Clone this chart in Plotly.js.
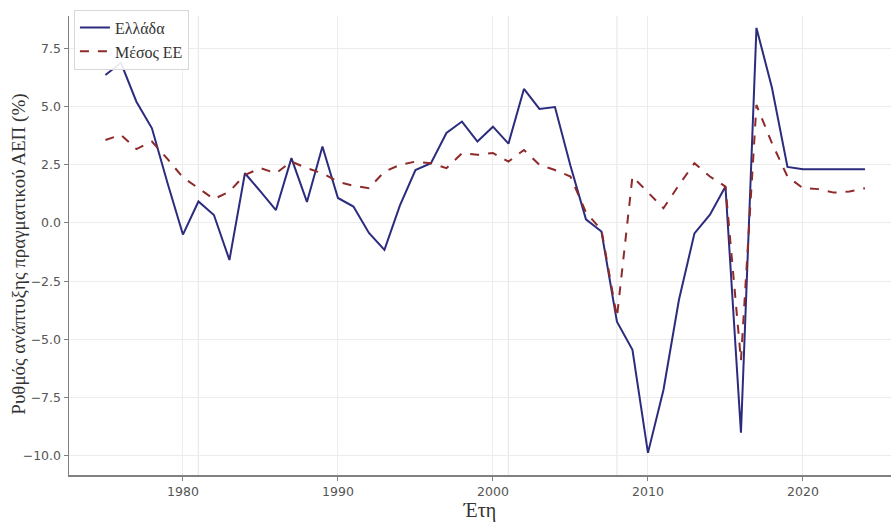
<!DOCTYPE html>
<html>
<head>
<meta charset="utf-8">
<script src="https://cdn.plot.ly/plotly-3.0.1.min.js"></script>
<style>html,body{margin:0;padding:0;background:#fff;}#chart{width:891px;height:527px;}</style>
</head>
<body>
<div id="chart"></div>
<script>
const years = [1975,1976,1977,1978,1979,1980,1981,1982,1983,1984,1985,1986,1987,1988,1989,1990,1991,1992,1993,1994,1995,1996,1997,1998,1999,2000,2001,2002,2003,2004,2005,2006,2007,2008,2009,2010,2011,2012,2013,2014,2015,2016,2017,2018,2019,2020,2021,2022,2023,2024];
const greece = [6.35,6.87,5.2,4.06,1.72,-0.5,0.92,0.34,-1.59,2.13,1.35,0.55,2.78,0.9,3.28,1.07,0.7,-0.43,-1.16,0.75,2.27,2.56,3.86,4.35,3.49,4.13,3.4,5.75,4.89,4.97,2.45,0.15,-0.37,-4.24,-5.45,-9.87,-7.17,-3.3,-0.45,0.35,1.56,-9.0,8.37,5.8,2.4,2.3,2.3,2.3,2.3,2.3];
const euAvg = [3.56,3.78,3.17,3.49,2.75,1.95,1.49,1.02,1.35,2.06,2.35,2.13,2.63,2.35,2.13,1.77,1.59,1.49,2.2,2.49,2.63,2.56,2.35,2.99,2.92,3.0,2.63,3.13,2.49,2.27,1.99,0.45,-0.3,-4.05,1.99,1.3,0.63,1.63,2.56,1.99,1.56,-5.9,5.06,3.42,1.99,1.49,1.45,1.3,1.35,1.49];
const seriesNames = ['Ελλάδα','Μέσος ΕΕ'];
const eventYears = [1981,2001,2008];
const xTitle = 'Έτη';
const yTitle = 'Ρυθμός ανάπτυξης πραγματικού ΑΕΠ (%)';

const serif = 'Liberation Serif, DejaVu Serif, serif';
const sans = 'DejaVu Sans, sans-serif';

const traces = [
  {x: years, y: greece, name: seriesNames[0], type: 'scatter', mode: 'lines',
   line: {color: '#2c2c7e', width: 2}},
  {x: years, y: euAvg, name: seriesNames[1], type: 'scatter', mode: 'lines',
   line: {color: '#8e2a2a', width: 2, dash: 'dash'}}
];

const shapes = eventYears.map(yr => ({
  type: 'line', xref: 'x', yref: 'paper', x0: yr, x1: yr, y0: 0, y1: 1,
  layer: 'below', line: {color: '#e8e8e8', width: 1.2}
}));

const layout = {
  width: 891, height: 527,
  margin: {l: 69, r: 0, t: 16, b: 52},
  paper_bgcolor: '#fff', plot_bgcolor: '#fff',
  showlegend: true,
  legend: {x: 0.006, y: 1.014, xanchor: 'left', yanchor: 'top',
    bgcolor: 'rgba(255,255,255,0.9)', bordercolor: '#d8d8d8', borderwidth: 1,
    font: {family: serif, size: 16, color: '#333'}, tracegroupgap: 0, itemwidth: 30},
  xaxis: {
    range: [1972.65, 2025.68], tickmode: 'linear', tick0: 1980, dtick: 10,
    showgrid: true, gridcolor: '#ececec', gridwidth: 1,
    zeroline: false, showline: true, linecolor: '#808080', linewidth: 1.5,
    ticks: 'outside', ticklen: 4, tickcolor: '#808080',
    tickfont: {family: sans, size: 12.5, color: '#555'},
    title: {text: xTitle, font: {family: serif, size: 20, color: '#333'}, standoff: 4},
    automargin: false
  },
  yaxis: {
    range: [-10.82, 8.88], tickmode: 'linear', tick0: 0, dtick: 2.5, tickformat: '.1f',
    showgrid: true, gridcolor: '#ececec', gridwidth: 1,
    zeroline: false, showline: true, linecolor: '#808080', linewidth: 1.5,
    ticks: 'outside', ticklen: 4, tickcolor: '#808080',
    tickfont: {family: sans, size: 12.5, color: '#555'},
    automargin: false
  },
  annotations: [{
    text: yTitle, xref: 'paper', yref: 'paper', x: 0, y: 0.48,
    xanchor: 'center', yanchor: 'middle', xshift: -50, textangle: -90,
    showarrow: false, font: {family: serif, size: 19, color: '#333'}
  }],
  shapes: shapes
};

Plotly.newPlot('chart', traces, layout, {displayModeBar: false, staticPlot: true});
</script>
</body>
</html>
